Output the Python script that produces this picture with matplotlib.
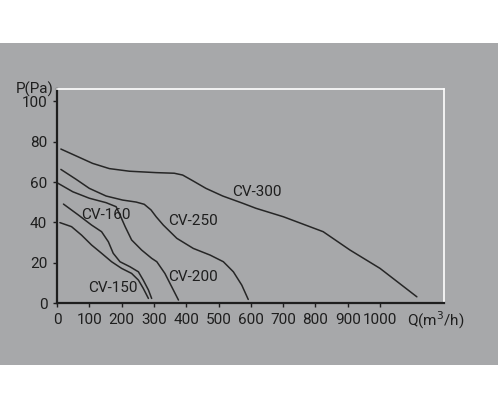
import matplotlib
matplotlib.use('Agg')
import matplotlib.pyplot as plt
from matplotlib.patches import Rectangle

# fan curves: Q (m3/h) vs P (Pa)
cv300_q = [12, 59, 110, 162, 224, 307, 363, 389, 420, 461, 513, 575, 616, 701, 824, 907, 1000, 1114]
cv300_p = [76.4, 73.0, 69.3, 66.7, 65.4, 64.7, 64.4, 63.5, 60.7, 56.9, 53.1, 49.5, 47.0, 42.8, 35.4, 26.3, 17.2, 3.1]
cv250_q = [12, 59, 100, 152, 203, 245, 270, 291, 307, 329, 371, 422, 474, 515, 546, 572, 592]
cv250_p = [66.3, 61.4, 56.9, 53.1, 51.1, 50.1, 49.0, 46.2, 42.8, 38.7, 32.1, 27.1, 23.8, 20.5, 15.5, 8.9, 1.8]
cv200_q = [0, 49, 100, 152, 183, 195, 211, 231, 262, 293, 309, 334, 355, 376]
cv200_p = [59.7, 55.2, 52.0, 49.8, 47.8, 43.7, 37.9, 31.3, 26.3, 22.2, 20.5, 14.7, 8.1, 1.5]
cv160_q = [20, 66, 107, 138, 159, 174, 195, 226, 252, 267, 283, 293]
cv160_p = [49.1, 43.7, 38.7, 35.4, 30.4, 24.7, 20.5, 18.0, 15.5, 11.4, 6.5, 2.3]
cv150_q = [9, 45, 76, 107, 138, 169, 200, 231, 252, 267, 283]
cv150_p = [39.9, 37.9, 33.7, 28.8, 24.7, 20.5, 17.2, 14.7, 11.4, 7.3, 2.3]

labels = ['CV-300', 'CV-250', 'CV-200', 'CV-160', 'CV-150']
x_ticks = [0, 100, 200, 300, 400, 500, 600, 700, 800, 900, 1000]
y_ticks = [0, 20, 40, 60, 80, 100]

plt.rcParams['font.family'] = ['Roboto', 'DejaVu Sans']
ink = '#1e1e1e'
grey = '#a7a8aa'

fig = plt.figure(figsize=(5, 4.09), dpi=100, facecolor='white')
fig.patches.append(Rectangle((0, 0.1076), 0.995, 0.7866, transform=fig.transFigure,
                             facecolor=grey, edgecolor='none', zorder=-10))

ax = fig.add_axes([0.114, 0.259, 0.774, 0.5225])
ax.set_facecolor('none')

series = [(cv300_q, cv300_p), (cv250_q, cv250_p), (cv200_q, cv200_p),
          (cv160_q, cv160_p), (cv150_q, cv150_p)]
for q, p in series:
    ax.plot(q, p, color='#262626', lw=1.1, solid_capstyle='round', solid_joinstyle='round')

label_pos = [(619, 55), (422, 40.5), (422, 13), (152, 43.7), (174, 7.3)]
for name, (lx, ly) in zip(labels, label_pos):
    ax.text(lx, ly, name, fontsize=11, color=ink, ha='center', va='center')

ax.set_xlim(0, 1198)
ax.set_ylim(0, 106)
ax.set_xticks(x_ticks)
ax.set_yticks(y_ticks)
ax.tick_params(direction='out', length=3, width=1, colors=ink, labelsize=11, pad=4)

for s in ['top', 'right']:
    ax.spines[s].set_color('white')
    ax.spines[s].set_linewidth(1.2)
for s in ['left', 'bottom']:
    ax.spines[s].set_color(ink)
    ax.spines[s].set_linewidth(1.6)

ax.text(-0.008, 1.0, 'P(Pa)', transform=ax.transAxes, ha='right', va='center',
        fontsize=11, color=ink)
ax.text(0.904, -0.08, 'Q(m$^3$/h)', transform=ax.transAxes, ha='left', va='center',
        fontsize=11, color=ink)

fig.savefig('out.png', dpi=100, facecolor='white')
